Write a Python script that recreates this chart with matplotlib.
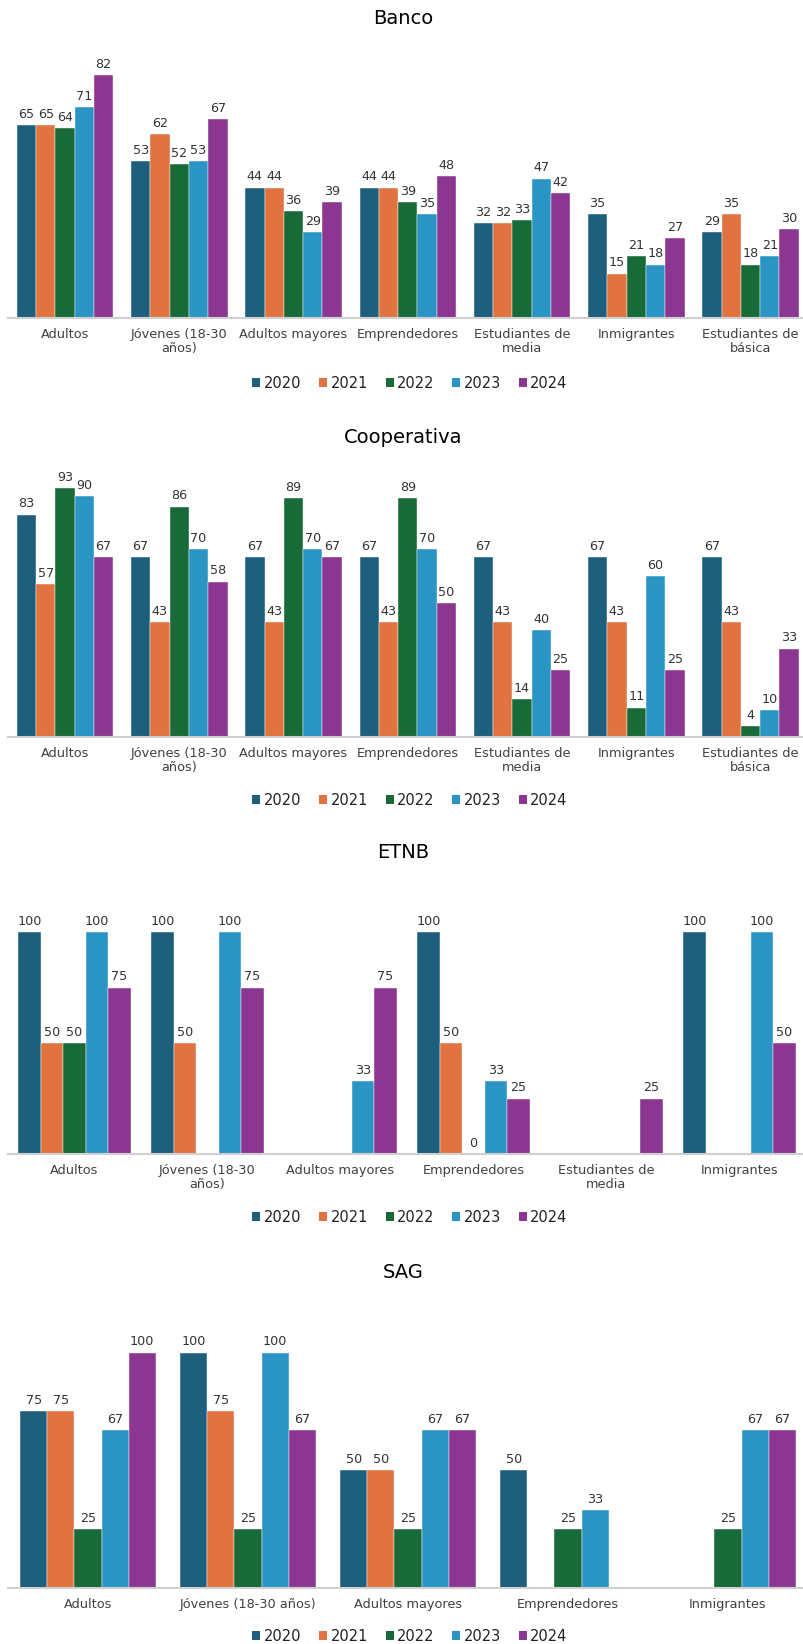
import numpy as np
import matplotlib
matplotlib.use("Agg")
import matplotlib.pyplot as plt
from matplotlib.patches import Patch

plt.rcParams['font.family'] = ['DejaVu Sans']

years = ["2020", "2021", "2022", "2023", "2024"]
colors = ["#1F5F7E", "#E07340", "#186A38", "#2A95C5", "#8B3792"]

cats_banco = ["Adultos", "Jóvenes (18-30\naños)", "Adultos mayores", "Emprendedores",
              "Estudiantes de\nmedia", "Inmigrantes", "Estudiantes de\nbásica"]
banco = [
    [65, 53, 44, 44, 32, 35, 29],
    [65, 62, 44, 44, 32, 15, 35],
    [64, 52, 36, 39, 33, 21, 18],
    [71, 53, 29, 35, 47, 18, 21],
    [82, 67, 39, 48, 42, 27, 30],
]

cats_coop = cats_banco
coop = [
    [83, 67, 67, 67, 67, 67, 67],
    [57, 43, 43, 43, 43, 43, 43],
    [93, 86, 89, 89, 14, 11, 4],
    [90, 70, 70, 70, 40, 60, 10],
    [67, 58, 67, 50, 25, 25, 33],
]

nan = np.nan
cats_etnb = ["Adultos", "Jóvenes (18-30\naños)", "Adultos mayores", "Emprendedores",
             "Estudiantes de\nmedia", "Inmigrantes"]
etnb = [
    [100, 100, nan, 100, nan, 100],
    [50, 50, nan, 50, nan, nan],
    [50, nan, nan, 0, nan, nan],
    [100, 100, 33, 33, nan, 100],
    [75, 75, 75, 25, 25, 50],
]

cats_sag = ["Adultos", "Jóvenes (18-30 años)", "Adultos mayores", "Emprendedores", "Inmigrantes"]
sag = [
    [75, 100, 50, 50, nan],
    [75, 75, 50, nan, nan],
    [25, 25, 25, 25, 25],
    [67, 100, 67, 33, 67],
    [100, 67, 67, nan, 67],
]

W, H = 804, 1644
fig = plt.figure(figsize=(W / 100, H / 100), dpi=100)

TXT = "#404040"

panels = [
    # title, cats, data, left_px, spacing_px, baseline_px, px_per_unit, top_px, title_y, legend_y
    ("Banco", cats_banco, banco, 7.9, 114.25, 318, 2.965, 60, 19, 383),
    ("Cooperativa", cats_coop, coop, 7.9, 114.25, 737, 2.68, 470, 437, 800),
    ("ETNB", cats_etnb, etnb, 8.0, 133.0, 1154, 2.22, 900, 853, 1217),
    ("SAG", cats_sag, sag, 8.0, 160.0, 1588, 2.355, 1320, 1272, 1636),
]

bw = 0.169
for title, cats, data, lpx, sp, base, ppu, top, ty, ly in panels:
    n = len(cats)
    right = lpx + n * sp
    ax = fig.add_axes([lpx / W, 1 - base / H, (right - lpx) / W, (base - top) / H])
    ax.set_xlim(-0.5, n - 0.5)
    ax.set_ylim(0, (base - top) / ppu)
    x = np.arange(n)
    for k, (yr, col) in enumerate(zip(years, colors)):
        vals = np.array(data[k], dtype=float)
        pos = x + (k - 2) * bw
        mask = ~np.isnan(vals)
        ax.bar(pos[mask], vals[mask], width=bw, color=col,
               edgecolor="white", linewidth=0.3)
        for p, v in zip(pos[mask], vals[mask]):
            ax.annotate(f"{v:.0f}", (p, v), xytext=(0, 3), textcoords="offset points",
                        ha="center", va="bottom", fontsize=9.2, color="#333333")
    for s in ["top", "right", "left"]:
        ax.spines[s].set_visible(False)
    ax.spines["bottom"].set_color("#D0D0D0")
    ax.spines["bottom"].set_linewidth(1.5)
    ax.set_yticks([])
    ax.set_xticks(x)
    ax.set_xticklabels(cats, fontsize=9.3, color=TXT, linespacing=1.1)
    ax.tick_params(axis="x", length=0, pad=7)
    fig.text(403 / W, 1 - ty / H, title, ha="center", va="center", fontsize=14, color="black")
    handles = [Patch(facecolor=c, edgecolor="none") for c in colors]
    fig.legend(handles, years, loc="center", bbox_to_anchor=(410 / W, 1 - ly / H),
               ncol=5, frameon=False, fontsize=10.5, handlelength=0.55, handleheight=0.55,
               handletextpad=0.25, columnspacing=1.2, labelcolor="#222222")

fig.savefig("out.png", dpi=100)
